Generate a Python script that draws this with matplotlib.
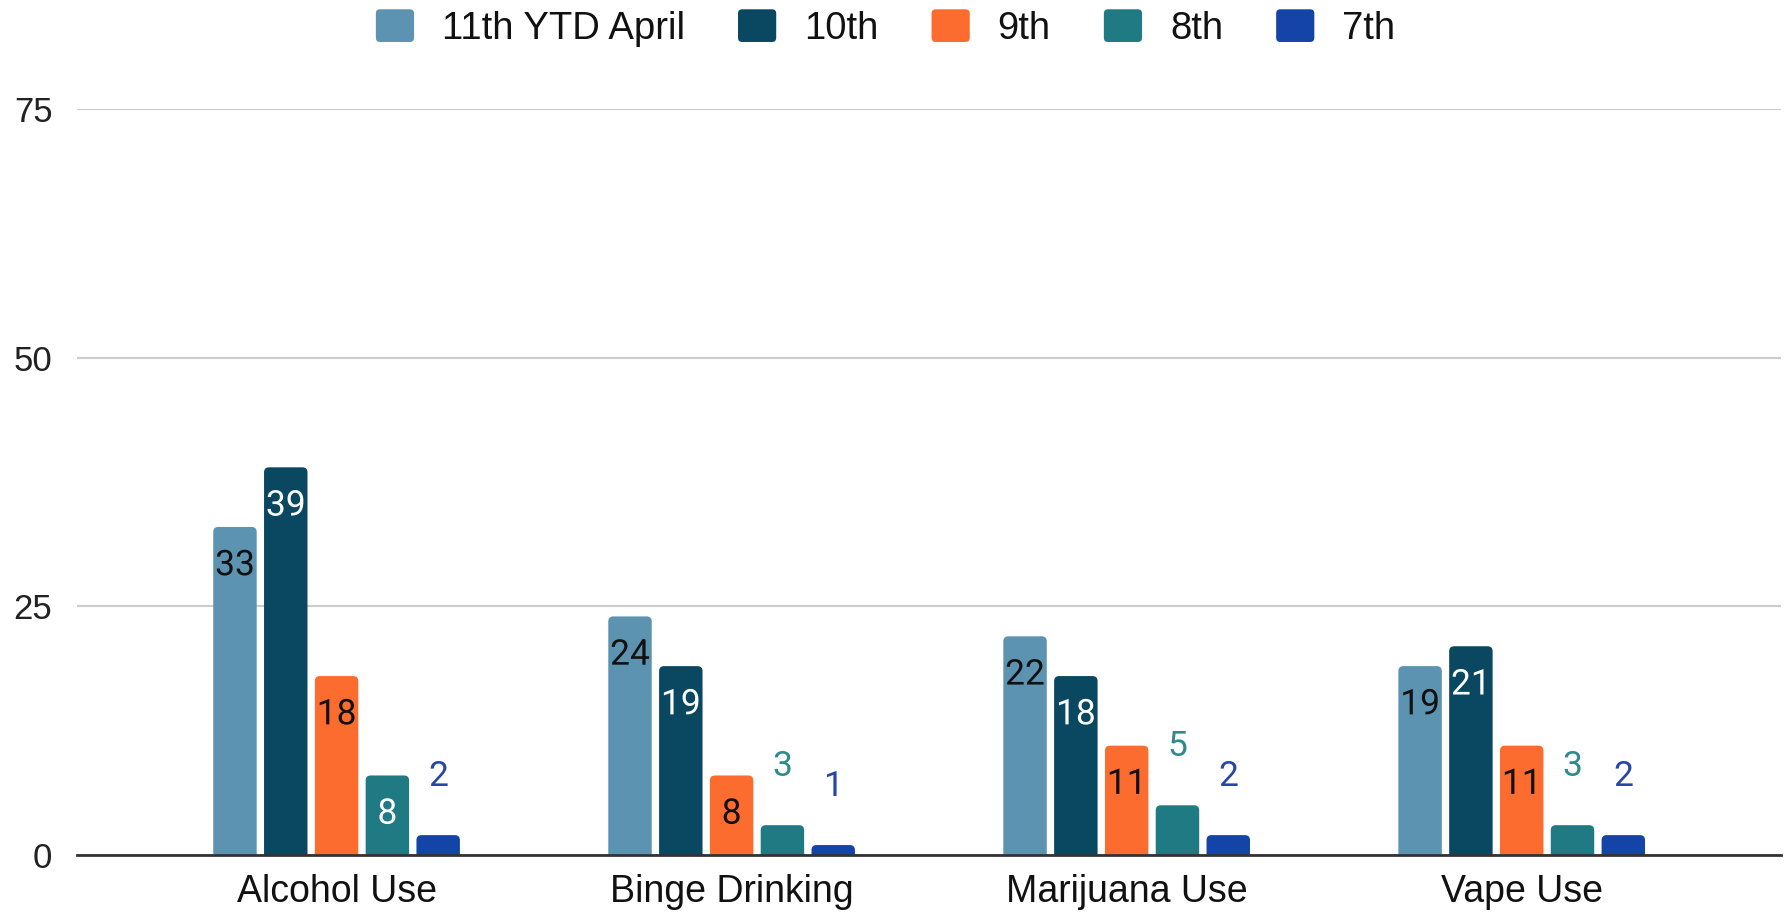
import matplotlib
matplotlib.use("Agg")
import matplotlib.pyplot as plt
import numpy as np
from matplotlib.patches import FancyBboxPatch, Patch
from matplotlib.legend_handler import HandlerPatch
import matplotlib.patheffects as pe

categories = ["Alcohol Use", "Binge Drinking", "Marijuana Use", "Vape Use"]
series_names = ["11th YTD April", "10th", "9th", "8th", "7th"]
grade11 = [33, 24, 22, 19]
grade10 = [39, 19, 18, 21]
grade9 = [18, 8, 11, 11]
grade8 = [8, 3, 5, 3]
grade7 = [2, 1, 2, 2]
yticks = [0, 25, 50, 75]

series = [grade11, grade10, grade9, grade8, grade7]
colors = ["#5b93b0", "#0a4862", "#fd6c2f", "#1f7a84", "#1544a8"]
inside_colors = ["#111111", "#ffffff", "#111111", "#ffffff", "#ffffff"]
outside_colors = ["#5b93b0", "#0a4862", "#fd6c2f", "#2e8a8c", "#2747a8"]

fig = plt.figure(figsize=(17.88, 9.16), dpi=100)
ax = fig.add_axes([0.0433, 0.0666, 0.9527, 0.8139])

x = np.arange(len(categories))
pitch = 0.1286
width = 0.11
xlim = (-0.656, 3.656)
ylim = (0, 75)
ax_w_px = 0.9527 * 1788
ax_h_px = 0.8139 * 916
aspect = ((ylim[1] - ylim[0]) / ax_h_px) / ((xlim[1] - xlim[0]) / ax_w_px)
rx = 5 * (xlim[1] - xlim[0]) / ax_w_px

for i, (vals, c) in enumerate(zip(series, colors)):
    offs = (i - 2) * pitch
    bars = ax.bar(x + offs, vals, width, color=c, label=series_names[i], zorder=3)
    for b, v in zip(bars, vals):
        b.set_visible(False)
        ext = rx * aspect
        p = FancyBboxPatch((b.get_x(), -ext), b.get_width(), b.get_height() + ext,
                           boxstyle=f"round,pad=0,rounding_size={rx}",
                           mutation_aspect=aspect, facecolor=c, edgecolor="none", zorder=3)
        ax.add_patch(p)
        cx = b.get_x() + b.get_width() / 2
        if v >= 8:
            ax.text(cx, v - 3.9, f"{v}", ha="center", va="center", fontsize=25.5,
                    family="Roboto", color=inside_colors[i], zorder=5,
                    path_effects=[pe.withStroke(linewidth=3, foreground=c)])
        else:
            ax.text(cx, v + 5.9, f"{v}", ha="center", va="center", fontsize=25.5,
                    family="Roboto", color=outside_colors[i], zorder=5)

ax.set_xlim(*xlim)
ax.set_ylim(*ylim)
ax.set_yticks(yticks)
ax.set_yticklabels([str(t) for t in yticks], family="Liberation Sans", fontsize=25, color="#222222")
ax.set_xticks(x)
ax.set_xticklabels(categories, family="Liberation Sans", fontsize=27, color="#111111")
ax.tick_params(axis="both", length=0)
ax.tick_params(axis="x", pad=14)
ax.tick_params(axis="y", pad=18)
ax.grid(axis="y", color="#cccccc", linewidth=1.5, zorder=0)
for s in ["top", "right", "left"]:
    ax.spines[s].set_visible(False)
ax.spines["bottom"].set_color("#333333")
ax.spines["bottom"].set_linewidth(2)
ax.spines["bottom"].set_zorder(4)


class RoundHandler(HandlerPatch):
    def create_artists(self, legend, orig_handle, xdescent, ydescent, width, height, fontsize, trans):
        p = FancyBboxPatch((-xdescent, -ydescent), width, height,
                           boxstyle="round,pad=0,rounding_size=3",
                           facecolor=orig_handle.get_facecolor(), edgecolor="none",
                           transform=trans)
        return [p]


handles = [Patch(facecolor=c) for c in colors]
leg = fig.legend(handles, series_names, loc="center", bbox_to_anchor=(0.4953, 0.9694), ncol=5,
                 frameon=False, prop={"family": "Liberation Sans", "size": 27.5},
                 handlelength=1.0, handleheight=0.94, handletextpad=0.73, columnspacing=1.39,
                 handler_map={Patch: RoundHandler()})
for t in leg.get_texts():
    t.set_color("#111111")
fig.savefig("out.png", dpi=100)
